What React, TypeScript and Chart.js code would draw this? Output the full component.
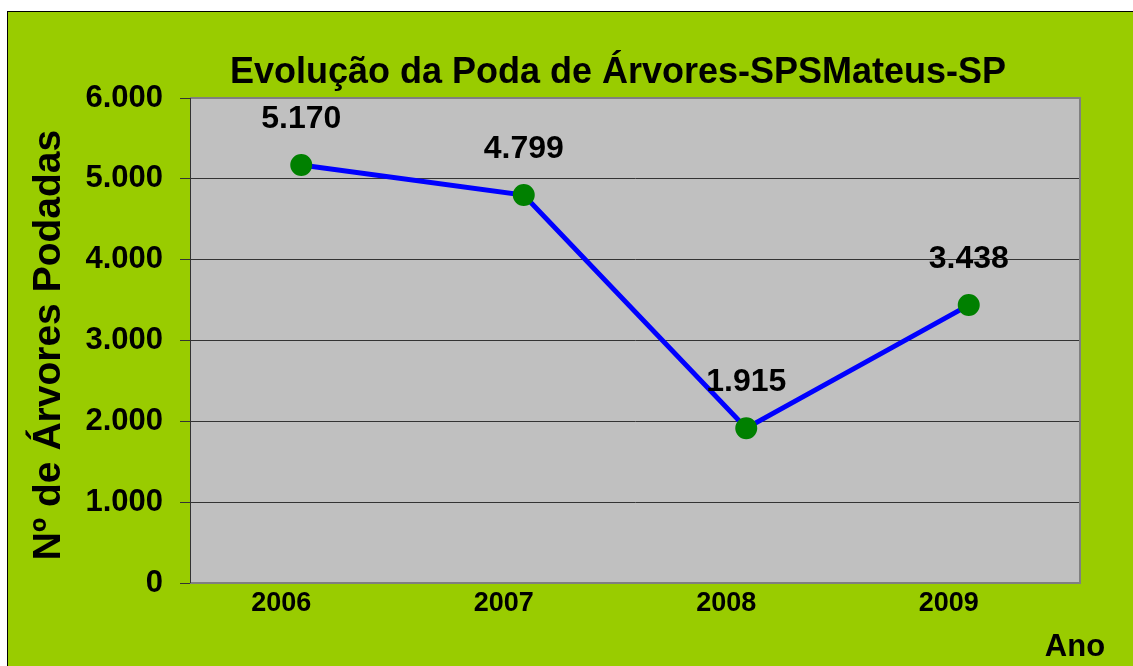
import React, { useEffect, useRef } from "react";
import { Chart, registerables } from "chart.js";

Chart.register(...registerables);

const years = ["2006", "2007", "2008", "2009"];
const podas = [5170, 4799, 1915, 3438];
const yMin = 0;
const yMax = 6000;
const yStep = 1000;
const titleText = "Evolução da Poda de Árvores-SPSMateus-SP";
const yTitle = "Nº de Árvores Podadas";
const xTitle = "Ano";

const FONT = '"Liberation Sans", Arial, sans-serif';
const fmt = (v: number) => String(Math.round(v)).replace(/\B(?=(\d{3})+(?!\d))/g, ".");

const W = 1125;
const H = 654;

const decorPlugin = {
  id: "decor",
  beforeDraw(chart: any) {
    const { ctx, chartArea: a } = chart;
    ctx.save();
    ctx.fillStyle = "#C0C0C0";
    ctx.fillRect(a.left, a.top, a.right - a.left, a.bottom - a.top);
    ctx.restore();
  },
  beforeDatasetsDraw(chart: any) {
    const { ctx, chartArea: a } = chart;
    ctx.save();
    ctx.strokeStyle = "#808080";
    ctx.lineWidth = 2;
    ctx.beginPath();
    ctx.moveTo(a.left, a.top);
    ctx.lineTo(a.right, a.top);
    ctx.lineTo(a.right, a.bottom);
    ctx.lineTo(a.left, a.bottom);
    ctx.stroke();
    ctx.strokeStyle = "#333333";
    ctx.lineWidth = 1;
    ctx.beginPath();
    ctx.moveTo(a.left + 0.5, a.top);
    ctx.lineTo(a.left + 0.5, a.bottom);
    ctx.stroke();
    ctx.restore();
  },
  afterDraw(chart: any) {
    const { ctx } = chart;
    ctx.save();
    ctx.fillStyle = "#000";
    // title
    ctx.font = `bold 36px ${FONT}`;
    ctx.textAlign = "center";
    ctx.textBaseline = "alphabetic";
    ctx.fillText(titleText, 610, 71);
    // x title
    ctx.font = `bold 31px ${FONT}`;
    ctx.fillText(xTitle, 1067, 644);
    // y title
    ctx.save();
    ctx.translate(52, 333);
    ctx.rotate(-Math.PI / 2);
    ctx.font = `bold 39px ${FONT}`;
    ctx.fillText(yTitle, 0, 0);
    ctx.restore();
    // data labels
    const meta = chart.getDatasetMeta(0);
    ctx.font = `bold 32px ${FONT}`;
    meta.data.forEach((pt: any, i: number) => {
      ctx.fillText(fmt(podas[i]), pt.x, pt.y - 37);
    });
    ctx.restore();
  },
};

export default function App() {
  const ref = useRef<HTMLCanvasElement>(null);
  useEffect(() => {
    if (!ref.current) return;
    const chart = new Chart(ref.current, {
      type: "line",
      data: {
        labels: years,
        datasets: [
          {
            data: podas,
            borderColor: "#0000FF",
            borderWidth: 5,
            pointBackgroundColor: "#008000",
            pointBorderColor: "#008000",
            pointRadius: 8.5,
            pointHoverRadius: 8.5,
            tension: 0,
            fill: false,
          },
        ],
      },
      options: {
        responsive: false,
        animation: false,
        events: [],
        layout: { padding: { top: 86, right: 53, left: 0, bottom: 0 } },
        plugins: { legend: { display: false }, tooltip: { enabled: false }, title: { display: false } },
        scales: {
          x: {
            offset: true,
            grid: { display: false, drawTicks: false },
            border: { display: false },
            ticks: {
              color: "#000",
              font: { family: FONT, size: 27, weight: "bold" },
              labelOffset: -20,
              padding: 4,
              maxRotation: 0,
            },
            afterFit: (s: any) => {
              s.height = 83;
            },
          },
          y: {
            min: yMin,
            max: yMax,
            grid: { color: "#333333", lineWidth: 1, tickLength: 10, tickColor: "#333333" },
            border: { display: true, color: "#333333", width: 1 },
            ticks: {
              stepSize: yStep,
              color: "#000",
              font: { family: FONT, size: 31, weight: "bold" },
              padding: 17,
              callback: (v: any) => fmt(Number(v)),
            },
            afterFit: (s: any) => {
              s.width = 182;
            },
          },
        },
      },
      plugins: [decorPlugin],
    });
    return () => chart.destroy();
  }, []);
  return (
    <div
      style={{
        position: "fixed",
        left: 7,
        top: 11,
        width: 1200,
        height: 700,
        border: "1px solid #000",
        background: "#99CC00",
      }}
    >
      <canvas ref={ref} width={W} height={H} style={{ position: "absolute", left: 0, top: 0, width: W, height: H }} />
    </div>
  );
}
